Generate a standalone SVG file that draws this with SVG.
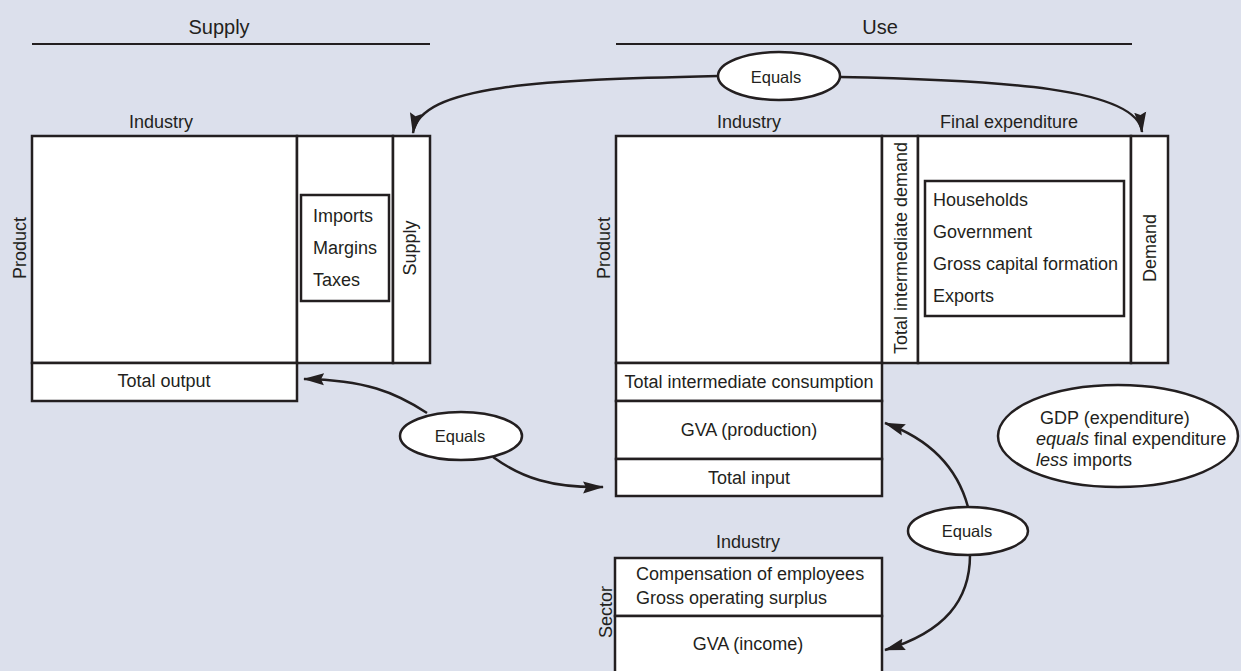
<svg xmlns="http://www.w3.org/2000/svg" width="1241" height="671" viewBox="0 0 1241 671">
<style>
.box{fill:#fff;stroke:#231f20;stroke-width:2.5}
.ell{fill:#fff;stroke:#231f20;stroke-width:2.5}
.t{font-family:"Liberation Sans",Arial,sans-serif;font-size:18px;fill:#231f20}
.h{font-family:"Liberation Sans",Arial,sans-serif;font-size:20px;fill:#231f20}
.e{font-family:"Liberation Sans",Arial,sans-serif;font-size:16.5px;fill:#231f20}
.m{text-anchor:middle}
.rule{stroke:#231f20;stroke-width:2.2}
.conn{fill:none;stroke:#231f20;stroke-width:2.5;marker-end:url(#arr)}
</style>
<defs>
<marker id="arr" markerUnits="userSpaceOnUse" markerWidth="21" markerHeight="13" refX="20" refY="6.5" orient="auto" viewBox="0 0 21 13">
<path d="M0,0.5 L21,6.5 L0,12.5 L3,6.5 Z" fill="#231f20"/>
</marker>
</defs>
<rect x="0" y="0" width="1241" height="671" fill="#dce0ec"/>

<g id="headings">
<text class="h m" x="219" y="34">Supply</text>
<line class="rule" x1="32" y1="44" x2="430" y2="44"/>
<text class="h m" x="880" y="34">Use</text>
<line class="rule" x1="616" y1="44" x2="1132" y2="44"/>
</g>

<g id="supply-table">
<text class="t m" x="161" y="128">Industry</text>
<text class="t m" transform="translate(25.5,248) rotate(-90)">Product</text>
<rect class="box" x="32" y="136" width="265" height="227"/>
<rect class="box" x="297" y="136" width="96" height="227"/>
<rect class="box" x="393" y="136" width="37" height="227"/>
<text class="t m" transform="translate(416,248) rotate(-90)">Supply</text>
<rect class="box" x="301" y="195" width="88" height="106"/>
<text class="t" x="313" y="222">Imports</text>
<text class="t" x="313" y="254">Margins</text>
<text class="t" x="313" y="286">Taxes</text>
<rect class="box" x="32" y="363" width="265" height="38"/>
<text class="t m" x="164" y="387">Total output</text>
</g>

<g id="use-table">
<text class="t m" x="749" y="128">Industry</text>
<text class="t m" x="1009" y="128">Final expenditure</text>
<text class="t m" transform="translate(609.5,248) rotate(-90)">Product</text>
<rect class="box" x="616" y="136" width="266" height="227"/>
<rect class="box" x="882" y="136" width="36" height="227"/>
<text class="t m" transform="translate(907,248) rotate(-90)">Total intermediate demand</text>
<rect class="box" x="918" y="136" width="213" height="227"/>
<rect class="box" x="925" y="181" width="199" height="135"/>
<text class="t" x="933" y="206">Households</text>
<text class="t" x="933" y="238">Government</text>
<text class="t" x="933" y="270">Gross capital formation</text>
<text class="t" x="933" y="302">Exports</text>
<rect class="box" x="1131" y="136" width="37" height="227"/>
<text class="t m" transform="translate(1156,248) rotate(-90)">Demand</text>
<rect class="box" x="616" y="363" width="266" height="38"/>
<text class="t m" x="749" y="388">Total intermediate consumption</text>
<rect class="box" x="616" y="401" width="266" height="58"/>
<text class="t m" x="749" y="436">GVA (production)</text>
<rect class="box" x="616" y="459" width="266" height="37"/>
<text class="t m" x="749" y="484">Total input</text>
</g>

<g id="income-table">
<text class="t m" x="748" y="548">Industry</text>
<text class="t m" transform="translate(611.5,612) rotate(-90)">Sector</text>
<rect class="box" x="615" y="558" width="267" height="58"/>
<text class="t" x="636" y="580">Compensation of employees</text>
<text class="t" x="636" y="604">Gross operating surplus</text>
<rect class="box" x="615" y="616" width="267" height="70"/>
<text class="t m" x="748" y="650">GVA (income)</text>
</g>

<g id="connectors">
<path class="conn" d="M718,76 C540,80 420,85 413,133"/>
<path class="conn" d="M840,77 C1000,80 1138,88 1142,132"/>
<path class="conn" d="M427,413 C395,392 365,380 304,379"/>
<path class="conn" d="M493,457 C522,478 552,488 603,487"/>
<path class="conn" d="M968,507 C958,470 932,440 885,423"/>
<path class="conn" d="M970,555 C970,600 945,632 885,650"/>
</g>

<g id="equals-top">
<ellipse class="ell" cx="779" cy="76" rx="61" ry="24"/>
<text class="e m" x="776" y="83">Equals</text>
</g>
<g id="equals-left">
<ellipse class="ell" cx="461" cy="436" rx="61" ry="24"/>
<text class="e m" x="460" y="442">Equals</text>
</g>
<g id="equals-right">
<ellipse class="ell" cx="968" cy="531" rx="60" ry="24"/>
<text class="e m" x="967" y="537">Equals</text>
</g>
<g id="gdp-note">
<ellipse class="ell" cx="1118" cy="436" rx="120" ry="51"/>
<text class="t" x="1040" y="424">GDP (expenditure)</text>
<text class="t" x="1036" y="445"><tspan font-style="italic">equals</tspan> final expenditure</text>
<text class="t" x="1036" y="466"><tspan font-style="italic">less</tspan> imports</text>
</g>
</svg>
